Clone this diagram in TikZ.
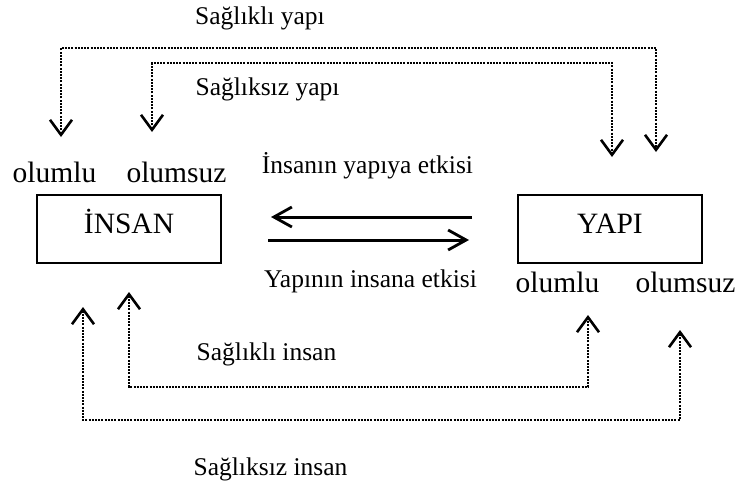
\documentclass[tikz,border=0pt]{standalone}
\usepackage{fontspec}
\setmainfont{Liberation Serif}
\usepackage{tikz}
\usetikzlibrary{arrows.meta}

\begin{document}
\begin{tikzpicture}[x=1pt,y=-1pt,
	kutu/.style={draw,line width=2pt,minimum width=184pt,minimum height=68pt,inner sep=0pt,
		text height=20pt,text depth=10pt,font=\fontsize{29.5}{34}\selectfont},
	buyuk/.style={anchor=base,inner sep=0pt,font=\fontsize{29.5}{34}\selectfont},
	kucuk/.style={anchor=base,inner sep=0pt,font=\fontsize{25.5}{30}\selectfont},
	nokta/.style={line width=2.2pt,dash pattern=on 2pt off 1.2pt,
		{Straight Barb[length=15pt,width=22pt,line width=2.6pt]}-{Straight Barb[length=15pt,width=22pt,line width=2.6pt]}},
	ok/.style={line width=3pt,-{Straight Barb[length=18pt,width=20pt,line width=2.8pt]}}]
	\useasboundingbox (0,0) rectangle (735,487);
	
	\node[kutu] (insan) at (129,228.5) {İNSAN};
	\node[kutu] (yapi) at (610,228.5) {YAPI};
	
	\node[buyuk] (iOlumlu) at (54.5,182) {olumlu};
	\node[buyuk] (iOlumsuz) at (176.5,182) {olumsuz};
	\node[buyuk] (yOlumlu) at (557.5,292) {olumlu};
	\node[buyuk] (yOlumsuz) at (685.5,292) {olumsuz};
	
	\node[kucuk] (sYapi) at (260,25) {Sağlıklı yapı};
	\node[kucuk] (ssYapi) at (267.5,95) {Sağlıksız yapı};
	\node[kucuk] (etki1) at (367.5,173) {İnsanın yapıya etkisi};
	\node[kucuk] (etki2) at (370.5,287) {Yapının insana etkisi};
	\node[kucuk] (sInsan) at (266.5,360) {Sağlıklı insan};
	\node[kucuk] (ssInsan) at (270.5,475) {Sağlıksız insan};
	
	% ok uclari ve yatay hatlar
	\coordinate (t1) at (61,137);
	\coordinate (t2) at (656,152);
	\coordinate (t3) at (152,132);
	\coordinate (t4) at (612,157);
	\coordinate (b1) at (129,292);
	\coordinate (b2) at (588,315);
	\coordinate (b3) at (83,307);
	\coordinate (b4) at (680,330);
	\coordinate (h1) at (0,48);
	\coordinate (h2) at (0,63);
	\coordinate (h3) at (0,387);
	\coordinate (h4) at (0,420);
	
	\draw[ok] ([shift={(-45,-11.5)}]yapi.west) -- ([shift={(49,-11.5)}]insan.east);
	\draw[ok] ([shift={(46,11.5)}]insan.east) -- ([shift={(-48,11.5)}]yapi.west);
	
	\draw[nokta] (t1) -- (t1 |- h1) -- (t2 |- h1) -- (t2);
	\draw[nokta] (t3) -- (t3 |- h2) -- (t4 |- h2) -- (t4);
	\draw[nokta] (b1) -- (b1 |- h3) -- (b2 |- h3) -- (b2);
	\draw[nokta] (b3) -- (b3 |- h4) -- (b4 |- h4) -- (b4);
\end{tikzpicture}
\end{document}
